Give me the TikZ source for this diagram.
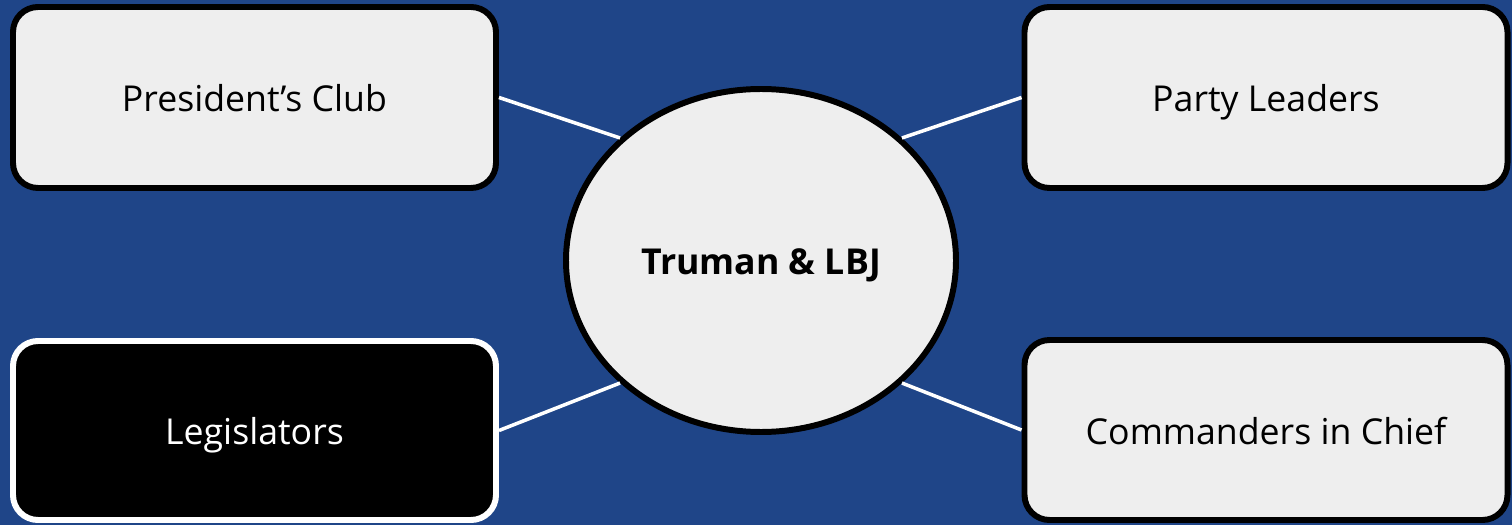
\documentclass[tikz,border=0pt]{standalone}
\usepackage{fontspec}
\setmainfont{Open Sans}
\usetikzlibrary{shapes.geometric}
\definecolor{deepblue}{RGB}{31,69,136}
\definecolor{paper}{RGB}{238,238,238}
\begin{document}
\begin{tikzpicture}[
		groupbox/.style={draw=black, fill=paper, line width=3.4pt, rounded corners=0.5cm,
			minimum width=9.66cm, minimum height=3.62cm, inner sep=0pt,
			text height=21.3pt, text depth=4.9pt,
			font=\fontsize{20.3}{24}\selectfont},
		darkbox/.style={groupbox, draw=white, fill=black, text=white},
		hub/.style={ellipse, draw=black, fill=paper, line width=3.4pt,
			minimum width=7.8cm, minimum height=6.86cm, inner sep=0pt,
			text height=21.3pt, text depth=4.9pt,
			font=\fontsize{20.3}{24}\selectfont\bfseries},
		link/.style={draw=white, line width=2pt}]
			\fill[deepblue] (0,0) rectangle (30.24,10.5);
			\node[hub] (truman) at (15.22,5.29) {Truman \& LBJ};
			\node[groupbox] (club) at (5.09,8.55) {President’s Club};
			\node[groupbox] (party) at (25.32,8.55) {Party Leaders};
			\node[darkbox, minimum height=3.58cm] (legis) at (5.09,1.89) {Legislators};
			\node[groupbox, minimum height=3.6cm] (chief) at (25.32,1.9) {Commanders in Chief};
			\draw[link] (club.east) -- (truman.139);
			\draw[link] (party.west) -- (truman.41);
			\draw[link] (legis.east) -- (truman.-139);
			\draw[link] (chief.west) -- (truman.-41);

		\end{tikzpicture}
\end{document}
